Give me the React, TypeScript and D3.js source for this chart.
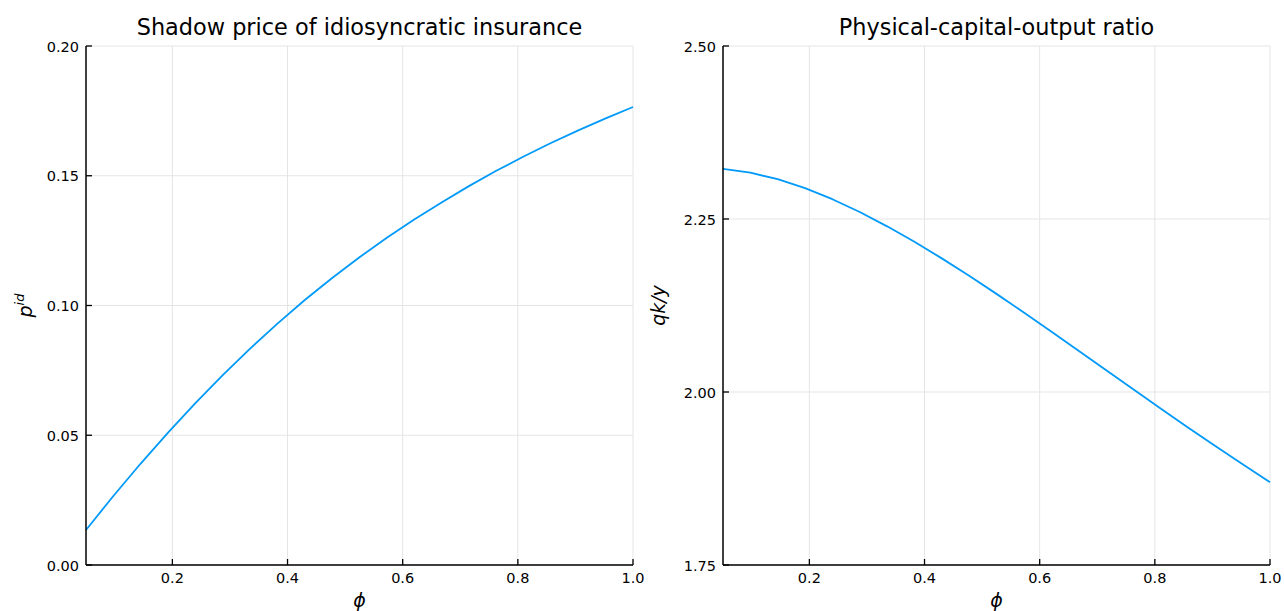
import React from "react";
import * as d3 from "d3";

// phi grid (21 points from 0.05 to 1.0)
const phi: number[] = [
  0.05, 0.0975, 0.145, 0.1925, 0.24, 0.2875, 0.335, 0.3825, 0.43, 0.4775, 0.525,
  0.5725, 0.62, 0.6675, 0.715, 0.7625, 0.81, 0.8575, 0.905, 0.9525, 1.0,
];

// shadow price of idiosyncratic insurance p^id
const pid: number[] = [
  0.0135, 0.0266, 0.0391, 0.051, 0.0624, 0.0732, 0.0834, 0.093, 0.1021, 0.1106,
  0.1186, 0.1261, 0.1331, 0.1397, 0.146, 0.1519, 0.1574, 0.1626, 0.1675, 0.1721, 0.1765,
];

// physical-capital-output ratio qk/y
const qky: number[] = [
  2.3223, 2.3169, 2.3075, 2.2945, 2.2786, 2.2601, 2.2394, 2.2171, 2.1931, 2.1679,
  2.1418, 2.1149, 2.0874, 2.0597, 2.0318, 2.0039, 1.9762, 1.9488, 1.922, 1.8955, 1.8695,
];

const xTicks: number[] = [0.2, 0.4, 0.6, 0.8, 1.0];
const leftYTicks: number[] = [0.0, 0.05, 0.1, 0.15, 0.2];
const rightYTicks: number[] = [1.75, 2.0, 2.25, 2.5];

const FONT = "'DejaVu Sans', sans-serif";
const LINE = "#009AF9";
const GRID = "#e5e5e5";

type PanelProps = {
  left: number;
  right: number;
  top: number;
  bottom: number;
  ys: number[];
  yDomain: [number, number];
  yTicks: number[];
  title: string;
  yLabel: React.ReactNode;
};

function Panel({ left, right, top, bottom, ys, yDomain, yTicks, title, yLabel }: PanelProps) {
  const x = d3.scaleLinear().domain([0.05, 1.0]).range([left, right]);
  const y = d3.scaleLinear().domain(yDomain).range([bottom, top]);
  const line = d3
    .line<number>()
    .x((_, i) => x(phi[i]))
    .y((d) => y(d));
  const cx = (left + right) / 2;
  const cy = (top + bottom) / 2;
  return (
    <g>
      {xTicks.map((t) => (
        <line key={"gx" + t} x1={x(t)} x2={x(t)} y1={top} y2={bottom} stroke={GRID} strokeWidth={1} />
      ))}
      {yTicks.map((t) => (
        <line key={"gy" + t} x1={left} x2={right} y1={y(t)} y2={y(t)} stroke={GRID} strokeWidth={1} />
      ))}
      <path d={line(ys) || ""} fill="none" stroke={LINE} strokeWidth={1.8} strokeLinejoin="round" />
      <line x1={left} x2={left} y1={top} y2={bottom} stroke="#000" strokeWidth={1.5} />
      <line x1={left} x2={right} y1={bottom} y2={bottom} stroke="#000" strokeWidth={1.5} />
      {xTicks.map((t) => (
        <g key={"tx" + t}>
          <line x1={x(t)} x2={x(t)} y1={bottom} y2={bottom - 6} stroke="#000" strokeWidth={1.3} />
          <text x={x(t)} y={583} textAnchor="middle" fontFamily={FONT} fontSize={14.5} fill="#000">
            {t.toFixed(1)}
          </text>
        </g>
      ))}
      {yTicks.map((t) => (
        <g key={"ty" + t}>
          <line x1={left} x2={left + 6} y1={y(t)} y2={y(t)} stroke="#000" strokeWidth={1.3} />
          <text x={left - 7} y={y(t) + 5.5} textAnchor="end" fontFamily={FONT} fontSize={14.5} fill="#000">
            {t.toFixed(2)}
          </text>
        </g>
      ))}
      <text x={cx} y={35} textAnchor="middle" fontFamily={FONT} fontSize={22.4} fill="#000">
        {title}
      </text>
      <text x={cx} y={607} textAnchor="middle" fontFamily={FONT} fontStyle="italic" fontSize={19} fill="#000">
        ϕ
      </text>
      {yLabel && (
        <g transform={`translate(${left - 53},${cy}) rotate(-90)`}>{yLabel}</g>
      )}
    </g>
  );
}

export default function App() {
  const top = 46;
  const bottom = 565;
  return (
    <svg
      width={1284}
      height={611}
      style={{ position: "absolute", left: 0, top: 0, background: "#fff" }}
    >
      <rect width={1284} height={611} fill="#fff" />
      <Panel
        left={86}
        right={633}
        top={top}
        bottom={bottom}
        ys={pid}
        yDomain={[0, 0.2]}
        yTicks={leftYTicks}
        title="Shadow price of idiosyncratic insurance"
        yLabel={
          <text x={0} y={-1} textAnchor="middle" fontFamily={FONT} fontStyle="italic" fontSize={19} fill="#000">
            p
            <tspan dy={-8} fontSize={13}>
              id
            </tspan>
          </text>
        }
      />
      <Panel
        left={723}
        right={1270}
        top={top}
        bottom={bottom}
        ys={qky}
        yDomain={[1.75, 2.5]}
        yTicks={rightYTicks}
        title="Physical-capital-output ratio"
        yLabel={
          <text x={0} y={-5} textAnchor="middle" fontFamily={FONT} fontStyle="italic" fontSize={19} fill="#000">
            qk/y
          </text>
        }
      />
    </svg>
  );
}
